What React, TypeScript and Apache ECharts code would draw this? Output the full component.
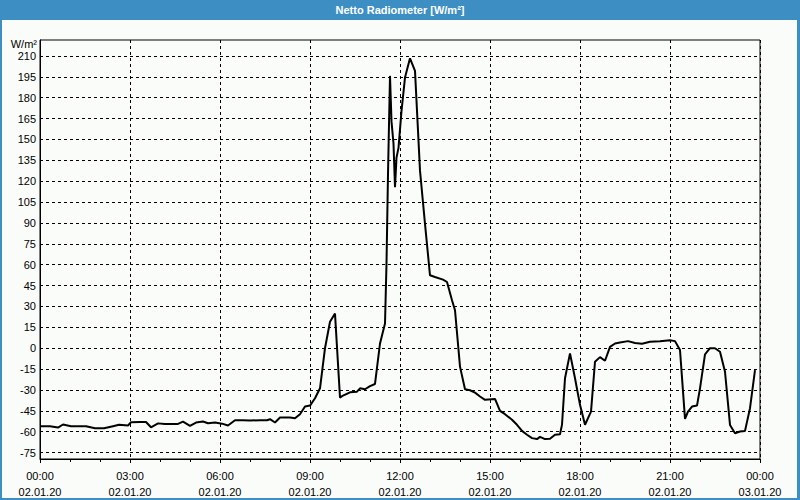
import React, { useEffect, useRef } from "react";
import * as echarts from "echarts";

const minutes = [
  0, 20, 36, 46, 62, 92, 110, 128, 146, 158, 176, 182, 200, 212, 222, 236, 250, 276, 286, 300,
  312, 326, 336, 350, 364, 376, 390, 406, 420, 440, 454, 460, 470, 480, 500, 510, 520, 530, 540, 550,
  560, 570, 580, 590, 600, 606, 620, 634, 640, 650, 660, 670, 680, 690, 693, 696, 698, 700, 703, 707,
  710, 713, 717, 723, 730, 740, 750, 760, 770, 780, 790, 806, 814, 824, 830, 840, 850, 860, 870, 880,
  890, 910, 920, 930, 944, 954, 964, 974, 984, 994, 1000, 1010, 1020, 1030, 1040, 1044, 1050, 1060, 1070, 1080,
  1090, 1102, 1110, 1120, 1130, 1140, 1150, 1160, 1176, 1190, 1204, 1220, 1240, 1260, 1270, 1280, 1290, 1296, 1304, 1314,
  1320, 1330, 1340, 1350, 1360, 1370, 1380, 1390, 1400, 1410, 1420, 1430,
];
const values = [
  -56, -56, -57, -54.8, -56, -56, -57.5, -57.5, -56, -55, -55.5, -53.2, -53, -53, -56.8, -54, -54.4, -54.4, -52.7, -55.8,
  -53.4, -52.7, -53.9, -53.4, -54.2, -55.5, -51.7, -51.7, -52, -51.7, -51.7, -51, -53.4, -49.8, -49.8, -50.3, -47.4, -41.9, -41.2, -35.9,
  -28.8, 0, 19, 24.9, -35.5, -34, -31.7, -31.2, -28.8, -29.5, -27.2, -25.7, 3.4, 17.7, 60.8, 125, 161, 195.7, 163, 147,
  115.7, 137, 144, 170.6, 194.5, 208.3, 199.3, 127.6, 89.4, 52.4, 51.2, 49.3, 47.6, 34.5, 27.3, -13.2, -29.5, -30.2, -31.9, -34.7,
  -37.1, -36.4, -45, -47.4, -51.4, -55, -59.4, -62.2, -64.6, -65.3, -63.7, -65.3, -65, -62.2, -61.8, -55, -21.6, -3.7, -21.6, -40.7,
  -55, -45.5, -9.7, -6.4, -9, 1, 3.4, 4.1, 5.1, 3.7, 3.2, 4.6, 5.1, 5.8, 5.1, -1.3, -50.8, -45.5, -41.9, -41.2,
  -28.8, -4.4, 0, 0, -2.5, -16.9, -55.1, -61.1, -59.8, -59.4, -43.1, -15.7,
];
const yTickValues = [-75, -60, -45, -30, -15, 0, 15, 30, 45, 60, 75, 90, 105, 120, 135, 150, 165, 180, 195, 210];
const xTickTimes = ["00:00", "03:00", "06:00", "09:00", "12:00", "15:00", "18:00", "21:00", "00:00"];
const xTickDates = ["02.01.20", "02.01.20", "02.01.20", "02.01.20", "02.01.20", "02.01.20", "02.01.20", "02.01.20", "03.01.20"];
const titleText = "Netto Radiometer [W/m²]";
const unitText = "W/m²";

const BLUE = "#3d8fc3";
const BG = "#fafcfa";
const FONT = "Liberation Sans";

export default function App() {
  const ref = useRef<HTMLDivElement>(null);
  useEffect(() => {
    document.body.style.margin = "0";
    const chart = echarts.init(ref.current!, null, { renderer: "svg" });
    const data = minutes.map((m, i) => [m, values[i]]);
    chart.setOption({
      animation: false,
      backgroundColor: BG,
      grid: {
        left: 40,
        top: 40,
        width: 720,
        height: 420,
        show: true,
        borderColor: "#000",
        borderWidth: 1,
        backgroundColor: "transparent",
      },
      xAxis: {
        type: "value",
        min: 0,
        max: 1440,
        interval: 180,
        axisLine: { show: true, onZero: false, lineStyle: { color: "#000", width: 1 } },
        axisTick: { show: true, length: 4, lineStyle: { color: "#000" } },
        minorTick: { show: true, splitNumber: 3, length: 3, lineStyle: { color: "#000" } },
        splitLine: { show: true, lineStyle: { color: "#000", type: [3, 3], width: 1 } },
        axisLabel: {
          color: "#000",
          fontFamily: FONT,
          fontSize: 11,
          lineHeight: 16,
          margin: 9,
          showMinLabel: true,
          showMaxLabel: true,
          formatter: (v: number) => {
            const i = Math.round(v / 180);
            return xTickTimes[i] + "\n" + xTickDates[i];
          },
        },
      },
      yAxis: {
        type: "value",
        min: -79.6,
        max: 221.5,
        axisLine: { show: true, onZero: false, lineStyle: { color: "#000", width: 1 } },
        axisTick: { show: false, customValues: yTickValues },
        splitLine: { show: true, lineStyle: { color: "#000", type: [3, 3], width: 1 } },
        axisLabel: {
          customValues: yTickValues,
          color: "#000",
          fontFamily: FONT,
          fontSize: 11,
          margin: 4,
        },
      },
      series: [
        {
          type: "line",
          data,
          symbol: "none",
          lineStyle: { color: "#000", width: 2 },
          silent: true,
        },
      ],
      graphic: [
        { type: "rect", left: 0, top: 0, shape: { width: 800, height: 20 }, style: { fill: BLUE }, silent: true },
        { type: "rect", left: 0, top: 0, shape: { width: 2, height: 500 }, style: { fill: BLUE }, silent: true },
        { type: "rect", left: 797, top: 0, shape: { width: 3, height: 500 }, style: { fill: BLUE }, silent: true },
        { type: "rect", left: 0, top: 498, shape: { width: 800, height: 2 }, style: { fill: BLUE }, silent: true },
        {
          type: "text",
          x: 400,
          y: 10,
          style: {
            text: titleText,
            fill: "#fff",
            font: `bold 11px "${FONT}"`,
            align: "center",
            verticalAlign: "middle",
          },
        },
        {
          type: "text",
          x: 37,
          y: 44,
          style: {
            text: unitText,
            fill: "#000",
            font: `11px "${FONT}"`,
            align: "right",
            verticalAlign: "middle",
          },
        },
      ],
    });
    return () => chart.dispose();
  }, []);
  return <div ref={ref} style={{ width: 800, height: 500 }} />;
}
